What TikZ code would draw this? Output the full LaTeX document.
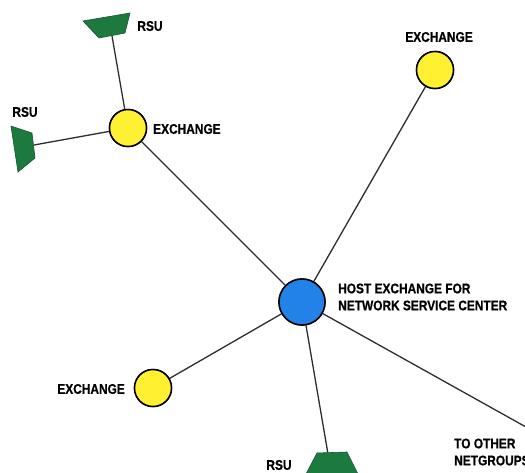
\documentclass[tikz,border=0pt]{standalone}
\usepackage{fontspec}
\newfontfamily\lblfont{Liberation Sans Bold}[FakeStretch=0.85,FakeBold=0.6]
\definecolor{exyellow}{RGB}{255,240,50}
\definecolor{hostblue}{RGB}{35,130,232}
\definecolor{rsugreen}{RGB}{28,122,62}
\definecolor{linkgray}{RGB}{45,45,45}
\begin{document}
\begin{tikzpicture}[x=1pt,y=-1pt,
  exch/.style={circle,draw=black,line width=1.5pt,fill=exyellow,minimum size=37pt,inner sep=0pt},
  host/.style={circle,draw=black,line width=1.5pt,fill=hostblue,minimum size=46pt,inner sep=0pt},
  rsu/.style={fill=rsugreen,draw=rsugreen!70!black,line width=0.6pt},
  link/.style={draw=linkgray,line width=1.3pt},
  lbl/.style={font=\lblfont\fontsize{14}{17}\selectfont,inner sep=0pt,text=black}]
\useasboundingbox (0,0) rectangle (525,472);
% nodes
\node[host] (H) at (302,302) {};
\node[exch] (E1) at (128,128) {};
\node[exch] (E2) at (435,70) {};
\node[exch] (E3) at (153,388) {};
% RSU attachment points
\coordinate (R1) at (112,36);
\coordinate (R2) at (34,145);
\coordinate (R3) at (328,454);
\coordinate (NG) at (560,446);
% connectors
\draw[link] (R1) -- (E1);
\draw[link] (R2) -- (E1);
\draw[link] (E1) -- (H);
\draw[link] (E2) -- (H);
\draw[link] (E3) -- (H);
\draw[link] (H) -- (R3);
\draw[link] (H) -- (NG);
% redraw circles on top
\node[host] at (H) {};
\node[exch] at (E1) {};
\node[exch] at (E2) {};
\node[exch] at (E3) {};
% RSU shapes
\draw[rsu] (83,21) -- (130,13) -- (125,33) -- (99,38) -- cycle;
\draw[rsu] (11,126) -- (32,133) -- (35,158) -- (18,172) -- cycle;
\draw[rsu] (317,453) -- (347,452) -- (358,474) -- (306,474) -- cycle;
% labels
\node[lbl,anchor=west] (lE1) at (153,129) {EXCHANGE};
\node[lbl] (lE2) at (439,37) {EXCHANGE};
\node[lbl,anchor=east] (lE3) at (125,389) {EXCHANGE};
\node[lbl] (lR1) at (150,26) {RSU};
\node[lbl] (lR2) at (25,112) {RSU};
\node[lbl] (lR3) at (279,465) {RSU};
\node[lbl,anchor=west,align=left] (lH) at (338,297) {HOST EXCHANGE FOR\\NETWORK SERVICE CENTER};
\node[lbl,anchor=west,align=left] (lNG) at (454,452) {TO OTHER\\NETGROUPS};
\end{tikzpicture}
\end{document}
